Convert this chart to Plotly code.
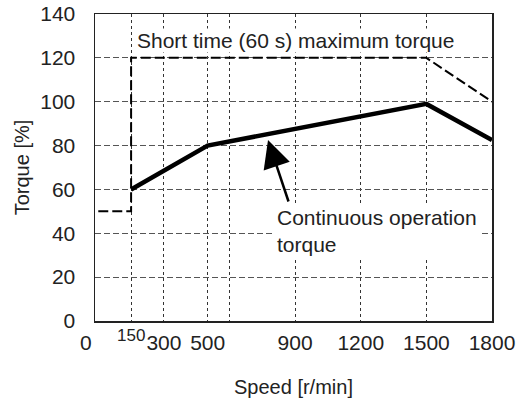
import plotly.graph_objects as go

# Data
speed_cont = [150, 500, 1500, 1800]
torque_cont = [60, 80, 99, 82.5]
speed_short = [0, 150, 150, 1500, 1800]
torque_short = [50, 50, 120, 120, 100]

x_tickvals = [150, 300, 500, 600, 900, 1200, 1500, 1800]
x_ticktext = ["", "300", "500", "", "900", "1200", "1500", "1800"]
y_tickvals = [0, 20, 40, 60, 80, 100, 120, 140]

FONT = "Liberation Sans, Arial, sans-serif"
TXT = "#222222"

fig = go.Figure()
fig.add_trace(go.Scatter(x=speed_short, y=torque_short, mode="lines",
                         line=dict(color="black", width=2, dash="10px,4px"),
                         showlegend=False, hoverinfo="skip"))
fig.add_trace(go.Scatter(x=speed_cont, y=torque_cont, mode="lines",
                         line=dict(color="black", width=4.5),
                         showlegend=False, hoverinfo="skip"))

fig.update_layout(
    width=522, height=403,
    margin=dict(l=95, r=30, t=14, b=82, autoexpand=False),
    paper_bgcolor="white", plot_bgcolor="white",
    font=dict(family=FONT, size=20, color=TXT),
    xaxis=dict(range=[-15, 1800], tickvals=x_tickvals, ticktext=x_ticktext,
               automargin=False,
               showgrid=True, gridcolor="#333333", gridwidth=1, griddash="3px,3px",
               showline=True, linecolor="#222222", linewidth=1.5, mirror=True,
               ticks="", zeroline=False, tickfont=dict(size=21, color=TXT),
               ticklabelstandoff=2,
               title=dict(text="Speed [r/min]", font=dict(size=20, color=TXT), standoff=27)),
    yaxis=dict(range=[0, 140], tickvals=y_tickvals,
               automargin=False,
               showgrid=True, gridcolor="#555555", gridwidth=1, griddash="6px,3px",
               showline=True, linecolor="#222222", linewidth=1.5, mirror=True,
               ticks="", zeroline=False, tickfont=dict(size=21, color=TXT),
               ticklabelstandoff=14,
               title=dict(text="Torque [%]", font=dict(size=20, color=TXT), standoff=5)),
)

# x tick labels "0" and raised small "150"
fig.add_annotation(x=0, y=0, xref="x", yref="paper", text="0", showarrow=False,
                   xshift=-12, yshift=-21, yanchor="middle",
                   font=dict(size=21, color=TXT))
fig.add_annotation(x=150, y=0, xref="x", yref="paper", text="150", showarrow=False,
                   yshift=-14, yanchor="middle",
                   font=dict(size=17, color=TXT))

# text labels
fig.add_annotation(x=150, y=128, xref="x", yref="y",
                   text="Short time (60 s) maximum torque", showarrow=False,
                   xanchor="left", yanchor="middle", xshift=5,
                   bgcolor="white", borderpad=0,
                   font=dict(size=21, color=TXT))
fig.add_annotation(x=805, y=41, xref="x", yref="y",
                   text="Continuous operation<br>torque", showarrow=False,
                   xanchor="left", yanchor="middle", align="left",
                   bgcolor="white", borderpad=2,
                   font=dict(size=21, color=TXT))
# arrow
fig.add_annotation(x=776, y=82.5, ax=872, ay=53.8, xref="x", yref="y",
                   axref="x", ayref="y", text="", showarrow=True,
                   arrowhead=2, arrowsize=2.2, arrowwidth=2.5, arrowcolor="black")

fig.write_html("out.html",
               config={"displayModeBar": False, "staticPlot": True},
               post_script="document.body.style.margin='0';document.body.style.overflow='hidden';")
